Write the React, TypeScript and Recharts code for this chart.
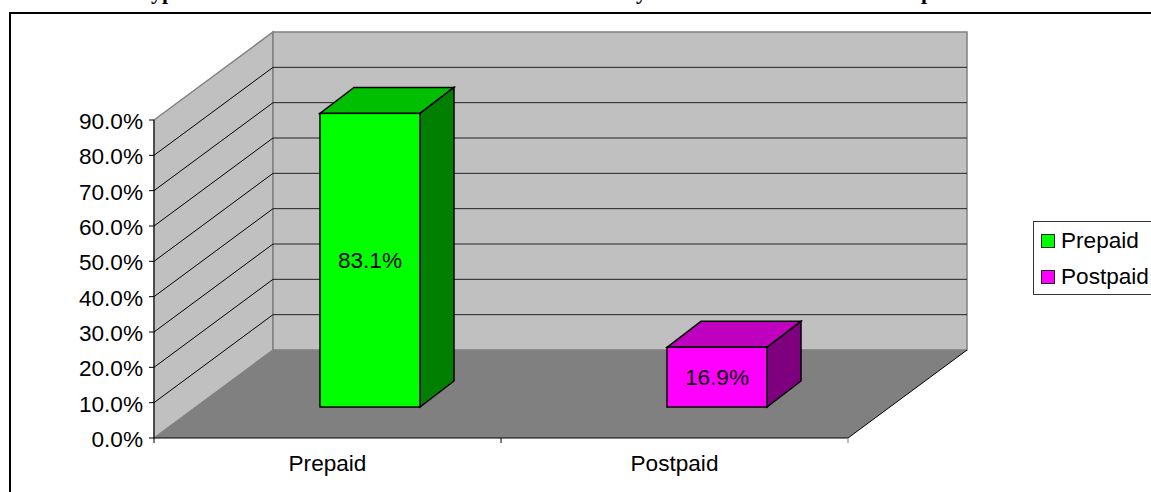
import {
  BarChart,
  Bar,
  XAxis,
  YAxis,
  CartesianGrid,
  Legend,
  LabelList,
} from "recharts";

const categories = ["Prepaid", "Postpaid"];
const shares = [83.1, 16.9];
const yTicks = [0, 10, 20, 30, 40, 50, 60, 70, 80, 90];

const faceColors = ["#00FF00", "#FF00FF"];
const topColors = ["#00BF00", "#BF00BF"];
const sideColors = ["#007F00", "#7F007F"];

const chartData = categories.map((name, i) => ({ name, value: shares[i] }));

// the title sits above the page edge, only these descenders still show
const titleBits = [
  { text: "Typ", x: 138 },
  { text: "y", x: 636 },
  { text: "p", x: 921 },
];

const FONT = "'Liberation Sans', Arial, sans-serif";
const FONT_SIZE = 22.6;

const CHART_W = 1160;
const CHART_H = 492;
const LEGEND_W = 123;

// front plane of the plot, walls are pushed back from it
const LEFT = 154;
const RIGHT = 848;
const TOP = 120;
const BOTTOM = 438;

// 3d offsets, same look as the old excel chart
const WALL_DX = 119;
const WALL_DY = 88;
const BAR_DX = 42;
const BAR_DY = 31;
const BAR_DEPTH_X = 34;
const BAR_DEPTH_Y = 26;

// sits under the chart svg, the grid layer would end up behind it otherwise
function Walls() {
  return (
    <svg
      width={CHART_W}
      height={CHART_H}
      style={{ position: "absolute", left: 0, top: 0 }}
    >
      <polygon
        points={`${LEFT},${TOP} ${LEFT + WALL_DX},${TOP - WALL_DY} ${LEFT + WALL_DX},${BOTTOM - WALL_DY} ${LEFT},${BOTTOM}`}
        fill="#C0C0C0"
        stroke="#808080"
        strokeWidth={1.5}
      />
      <rect
        x={LEFT + WALL_DX}
        y={TOP - WALL_DY}
        width={RIGHT - LEFT}
        height={BOTTOM - TOP}
        fill="#C0C0C0"
        stroke="#808080"
        strokeWidth={1.5}
      />
      <polygon
        points={`${LEFT},${BOTTOM} ${RIGHT},${BOTTOM} ${RIGHT + WALL_DX},${BOTTOM - WALL_DY} ${LEFT + WALL_DX},${BOTTOM - WALL_DY}`}
        fill="#808080"
      />
      <line
        x1={RIGHT}
        y1={BOTTOM}
        x2={RIGHT + WALL_DX}
        y2={BOTTOM - WALL_DY}
        stroke="#000"
      />
    </svg>
  );
}

function GridLine(props: any) {
  const { x1, x2, y1 } = props;
  // top edge and floor are part of the walls
  if (y1 <= TOP + 1 || y1 >= BOTTOM - 1) return <g key={y1} />;
  return (
    <g key={y1}>
      <line
        x1={x1}
        y1={y1}
        x2={x1 + WALL_DX}
        y2={y1 - WALL_DY}
        stroke="#000"
        strokeWidth={1}
      />
      <line
        x1={x1 + WALL_DX}
        y1={y1 - WALL_DY}
        x2={x2 + WALL_DX}
        y2={y1 - WALL_DY}
        stroke="#222"
        strokeWidth={1}
      />
    </g>
  );
}

function Bar3D(props: any) {
  const { x, y, width, height, index } = props;
  const fx = x + BAR_DX;
  const fy = y - BAR_DY;
  const dx = BAR_DEPTH_X;
  const dy = BAR_DEPTH_Y;

  return (
    <g stroke="#000" strokeWidth={1.5} strokeLinejoin="miter">
      <polygon
        points={`${fx},${fy} ${fx + dx},${fy - dy} ${fx + width + dx},${fy - dy} ${fx + width},${fy}`}
        fill={topColors[index]}
      />
      <polygon
        points={`${fx + width},${fy} ${fx + width + dx},${fy - dy} ${fx + width + dx},${fy + height - dy} ${fx + width},${fy + height}`}
        fill={sideColors[index]}
      />
      <rect x={fx} y={fy} width={width} height={height} fill={faceColors[index]} />
    </g>
  );
}

function CategoryTick(props: any) {
  const { x, y, payload, index } = props;
  const band = (RIGHT - LEFT) / categories.length;
  return (
    <g>
      <line x1={x - band / 2} y1={y - 8} x2={x - band / 2} y2={y - 3} stroke="#000" />
      {index === categories.length - 1 && (
        <line x1={x + band / 2} y1={y - 8} x2={x + band / 2} y2={y - 3} stroke="#808080" />
      )}
      <text x={x} y={y + 25} textAnchor="middle" fontSize={FONT_SIZE} fontFamily={FONT} fill="#000">
        {payload.value}
      </text>
    </g>
  );
}

function LegendBox() {
  return (
    <div
      style={{
        boxSizing: "border-box",
        width: LEGEND_W,
        height: 74,
        border: "1px solid #333",
        background: "#fff",
        fontFamily: FONT,
        fontSize: FONT_SIZE,
        color: "#000",
      }}
    >
      {categories.map((name, i) => (
        <div
          key={name}
          style={{ display: "flex", alignItems: "center", height: 36, paddingLeft: 7, marginTop: i === 0 ? 1 : 0 }}
        >
          <div
            style={{
              boxSizing: "border-box",
              width: 14,
              height: 14,
              marginRight: 6,
              flex: "none",
              border: "1.5px solid #222",
              backgroundColor: faceColors[i],
            }}
          />
          <span style={{ lineHeight: "36px" }}>{name}</span>
        </div>
      ))}
    </div>
  );
}

export default function App() {
  return (
    <div
      style={{
        position: "absolute",
        left: 0,
        top: 0,
        width: 1151,
        height: 492,
        overflow: "hidden",
        background: "#fff",
      }}
    >
      <div
        style={{
          position: "absolute",
          left: 9,
          top: 12,
          width: 1300,
          height: 700,
          border: "2px solid #000",
        }}
      />
      {titleBits.map((bit) => (
        <div
          key={bit.x}
          style={{
            position: "absolute",
            left: bit.x,
            top: -20,
            lineHeight: "24px",
            fontFamily: "'Liberation Serif', serif",
            fontWeight: "bold",
            fontSize: 22,
            color: "#000",
          }}
        >
          {bit.text}
        </div>
      ))}
      <Walls />
      <div style={{ position: "absolute", left: 0, top: 0 }}>
        <BarChart
          width={CHART_W}
          height={CHART_H}
          data={chartData}
          margin={{
            top: TOP,
            right: CHART_W - RIGHT - LEGEND_W,
            bottom: CHART_H - BOTTOM - 40,
            left: LEFT - 60,
          }}
        >
          <CartesianGrid vertical={false} horizontal={GridLine} />
          <XAxis
            dataKey="name"
            height={40}
            tickLine={false}
            axisLine={{ stroke: "#000" }}
            tick={CategoryTick}
            interval={0}
          />
          <YAxis
            width={60}
            domain={[0, 90]}
            ticks={yTicks}
            interval={0}
            tickSize={5}
            tickMargin={6}
            tickFormatter={(v: number) => `${v.toFixed(1)}%`}
            axisLine={{ stroke: "#000" }}
            tickLine={{ stroke: "#000" }}
            tick={{ fontSize: FONT_SIZE, fontFamily: FONT, fill: "#000", dy: 1 }}
          />
          <Bar dataKey="value" barSize={100} shape={Bar3D} isAnimationActive={false}>
            <LabelList
              dataKey="value"
              position="center"
              dx={BAR_DX}
              dy={-BAR_DY}
              fontSize={FONT_SIZE}
              fontFamily={FONT}
              fill="#000"
              formatter={(v: number) => `${v.toFixed(1)}%`}
            />
          </Bar>
          <Legend
            layout="vertical"
            align="right"
            verticalAlign="middle"
            content={LegendBox}
            wrapperStyle={{ position: "absolute", left: 1033, top: 221, width: LEGEND_W, height: 74 }}
          />
        </BarChart>
      </div>
    </div>
  );
}
